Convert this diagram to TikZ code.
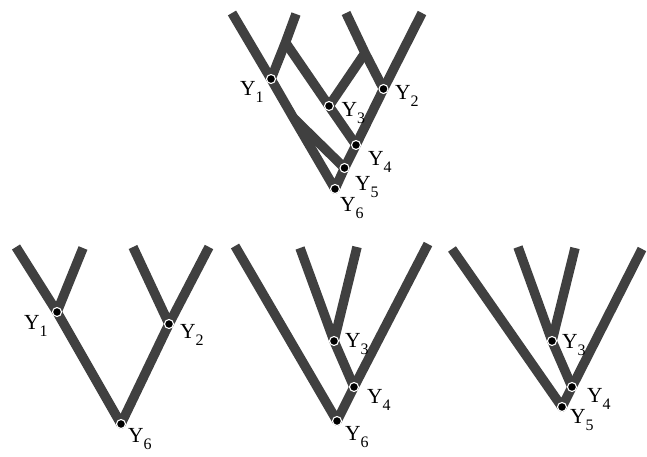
\documentclass[tikz,border=0pt]{standalone}
\usepackage{fontspec}
\setmainfont{Liberation Serif}
\tikzset{
  bar/.style={line width=9.5pt, draw=black!75, line cap=butt, line join=round},
  junc/.style={circle, fill=black, draw=white, line width=1.1pt, minimum size=9pt, inner sep=0pt},
  ytext/.style={anchor=base west, inner sep=0pt, font=\fontsize{21.5}{22}\selectfont},
}
\newcommand\ysub[1]{Y\raisebox{-7pt}{\fontsize{16}{16}\selectfont #1}}
\begin{document}
\begin{tikzpicture}[x=1pt,y=-1pt]
\useasboundingbox (0,0) rectangle (647,457);
% ---------- top network ----------
\coordinate (tl1) at (232,13);
\coordinate (tl2) at (296,14);
\coordinate (tl3) at (346,13);
\coordinate (tl4) at (422,13);
\coordinate (tY1) at (271,79);
\coordinate (tY2) at (383.5,89);
\coordinate (tY3) at (329,106);
\coordinate (tY4) at (356,145);
\coordinate (tY5) at (344.5,168);
\coordinate (tY6) at (335,189);
\coordinate (tQ) at (285.5,42.5);
\coordinate (tR) at (365,53);
\coordinate (tP) at (293.5,118);
\draw[bar] (tl1) -- (tY1) -- (tP) -- (tY6) -- (tY5) -- (tY4) -- (tY2) -- (tl4);
\draw[bar] (tl2) -- (tQ) -- (tY1);
\draw[bar] (tQ) -- (tY3) -- (tY4);
\draw[bar] (tl3) -- (tR) -- (tY2);
\draw[bar] (tR) -- (tY3);
\draw[bar] (tP) -- (tY5);
\foreach \n in {tY1,tY2,tY3,tY4,tY5,tY6} \node[junc] (\n d) at (\n) {};
\node[ytext] (tY1t) at (240,96) {\ysub{1}};
\node[ytext] (tY2t) at (395,100) {\ysub{2}};
\node[ytext] (tY3t) at (341.5,116.5) {\ysub{3}};
\node[ytext] (tY4t) at (368,165) {\ysub{4}};
\node[ytext] (tY5t) at (355,190) {\ysub{5}};
\node[ytext] (tY6t) at (340,211.5) {\ysub{6}};
% ---------- bottom left ----------
\coordinate (bl1) at (16,247);
\coordinate (bl2) at (83,248);
\coordinate (bl3) at (133,247);
\coordinate (bl4) at (209,247);
\coordinate (bY1) at (57,312);
\coordinate (bY2) at (169,324);
\coordinate (bY6) at (121,424);
\draw[bar] (bl1) -- (bY1) -- (bY6) -- (bY2) -- (bl4);
\draw[bar] (bl2) -- (bY1);
\draw[bar] (bl3) -- (bY2);
\foreach \n in {bY1,bY2,bY6} \node[junc] (\n d) at (\n) {};
\node[ytext] (bY1t) at (24,329) {\ysub{1}};
\node[ytext] (bY2t) at (180,338) {\ysub{2}};
\node[ytext] (bY6t) at (128,442) {\ysub{6}};
% ---------- bottom middle ----------
\coordinate (ml1) at (235,246);
\coordinate (ml2) at (300,248);
\coordinate (ml3) at (357,247);
\coordinate (ml4) at (428,244);
\coordinate (mY3) at (334,341);
\coordinate (mY4) at (354,387);
\coordinate (mY6) at (337,421);
\draw[bar] (ml1) -- (mY6) -- (mY4) -- (ml4);
\draw[bar] (ml2) -- (mY3) -- (mY4);
\draw[bar] (ml3) -- (mY3);
\foreach \n in {mY3,mY4,mY6} \node[junc] (\n d) at (\n) {};
\node[ytext] (mY3t) at (345,347.5) {\ysub{3}};
\node[ytext] (mY4t) at (367,403) {\ysub{4}};
\node[ytext] (mY6t) at (345,440) {\ysub{6}};
% ---------- bottom right ----------
\coordinate (rl1) at (452,249);
\coordinate (rl2) at (518,247);
\coordinate (rl3) at (575,248);
\coordinate (rl4) at (642,249);
\coordinate (rY3) at (552,341);
\coordinate (rY4) at (572,387);
\coordinate (rY5) at (562,407);
\draw[bar] (rl1) -- (rY5) -- (rY4) -- (rl4);
\draw[bar] (rl2) -- (rY3) -- (rY4);
\draw[bar] (rl3) -- (rY3);
\foreach \n in {rY3,rY4,rY5} \node[junc] (\n d) at (\n) {};
\node[ytext] (rY3t) at (562,348) {\ysub{3}};
\node[ytext] (rY4t) at (587,402) {\ysub{4}};
\node[ytext] (rY5t) at (570,423) {\ysub{5}};
\end{tikzpicture}
\end{document}
